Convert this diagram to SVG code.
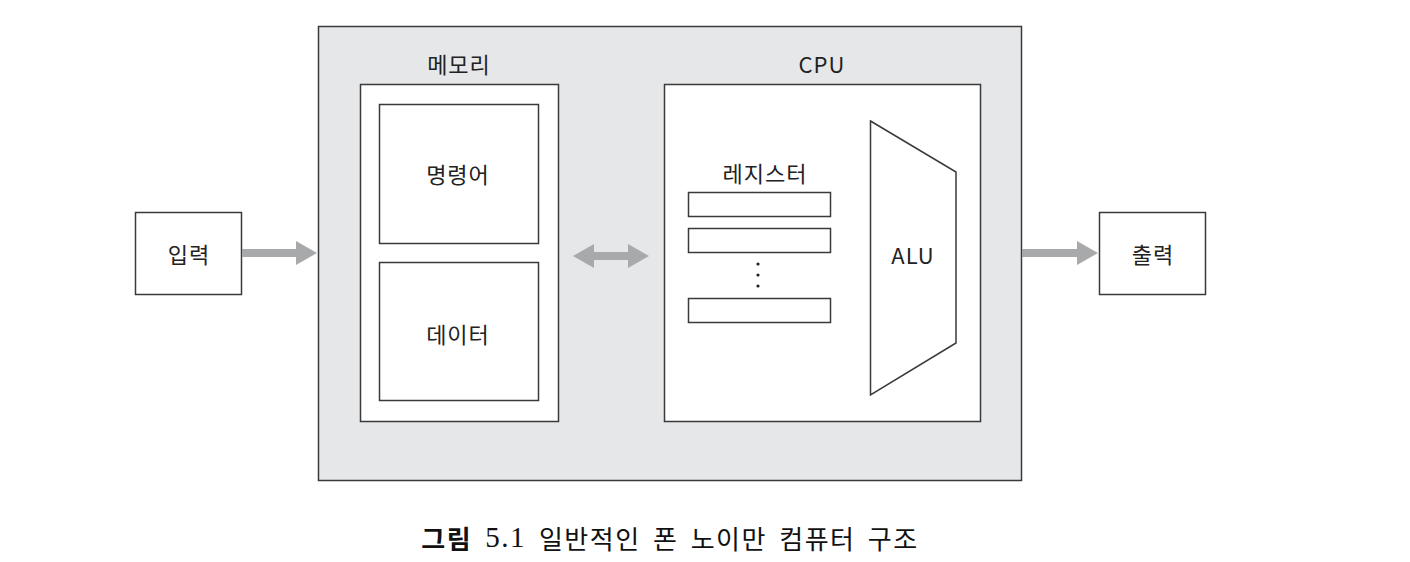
<svg xmlns="http://www.w3.org/2000/svg" width="1410" height="562" viewBox="0 0 1410 562">
<style>
.box{fill:#fff;stroke:#3a3a3a;stroke-width:1.5}
.t{font-family:"Noto Sans CJK KR","Noto Sans",sans-serif;font-size:22px;letter-spacing:1px;fill:#222;text-anchor:middle;dominant-baseline:central}
.arr{fill:#a8a9ab}
</style>
<rect width="1410" height="562" fill="#fff"/>
<g id="computer">
<rect x="318.5" y="26.5" width="703" height="454" fill="#e6e7e9" stroke="#3a3a3a" stroke-width="1.5"/>
</g>
<g id="memory">
<rect class="box" x="360.5" y="84.5" width="198" height="337"/>
<text class="t" x="459" y="63">메모리</text>
</g>
<g id="instruction">
<rect class="box" x="379.5" y="104.5" width="159" height="139"/>
<text class="t" x="458" y="173">명령어</text>
</g>
<g id="data">
<rect class="box" x="379.5" y="262.5" width="159" height="138"/>
<text class="t" x="458" y="333">데이터</text>
</g>
<g id="cpu">
<rect class="box" x="664.5" y="84.5" width="316" height="337"/>
<text class="t" x="822" y="63">CPU</text>
</g>
<g id="registers">
<text class="t" x="765" y="172">레지스터</text>
<rect class="box" x="688.5" y="192.5" width="142" height="24"/>
<rect class="box" x="688.5" y="228.5" width="142" height="24"/>
<rect class="box" x="688.5" y="298.5" width="142" height="24"/>
<circle cx="758" cy="264" r="1.6" fill="#222"/>
<circle cx="758" cy="275" r="1.6" fill="#222"/>
<circle cx="758" cy="286" r="1.6" fill="#222"/>
</g>
<g id="alu">
<polygon class="box" points="870.5,121 956,172 956,343 870.5,395"/>
<text class="t" x="913" y="254">ALU</text>
</g>
<g id="input">
<rect class="box" x="135.5" y="212.5" width="106" height="82"/>
<text class="t" x="189" y="253">입력</text>
</g>
<g id="output">
<rect class="box" x="1099.5" y="212.5" width="106" height="82"/>
<text class="t" x="1153" y="253">출력</text>
</g>
<g id="connectors">
<polygon class="arr" points="242,249 296,249 296,241 317,253 296,265 296,257 242,257"/>
<polygon class="arr" points="573,256 594,244 594,252 628,252 628,244 649,256 628,268 628,260 594,260 594,268"/>
<polygon class="arr" points="1022,249 1077,249 1077,241 1098,253 1077,265 1077,257 1022,257"/>
</g>
<text x="670" y="537" font-family="'Liberation Serif','Noto Sans CJK KR',serif" font-size="26" letter-spacing="1.5" word-spacing="5" fill="#111" text-anchor="middle" dominant-baseline="central"><tspan font-weight="bold" font-family="'Noto Sans CJK KR',sans-serif">그림</tspan> <tspan font-size="29">5.1</tspan> <tspan font-family="'Noto Sans CJK KR',sans-serif">일반적인 폰 노이만 컴퓨터 구조</tspan></text>
</svg>
